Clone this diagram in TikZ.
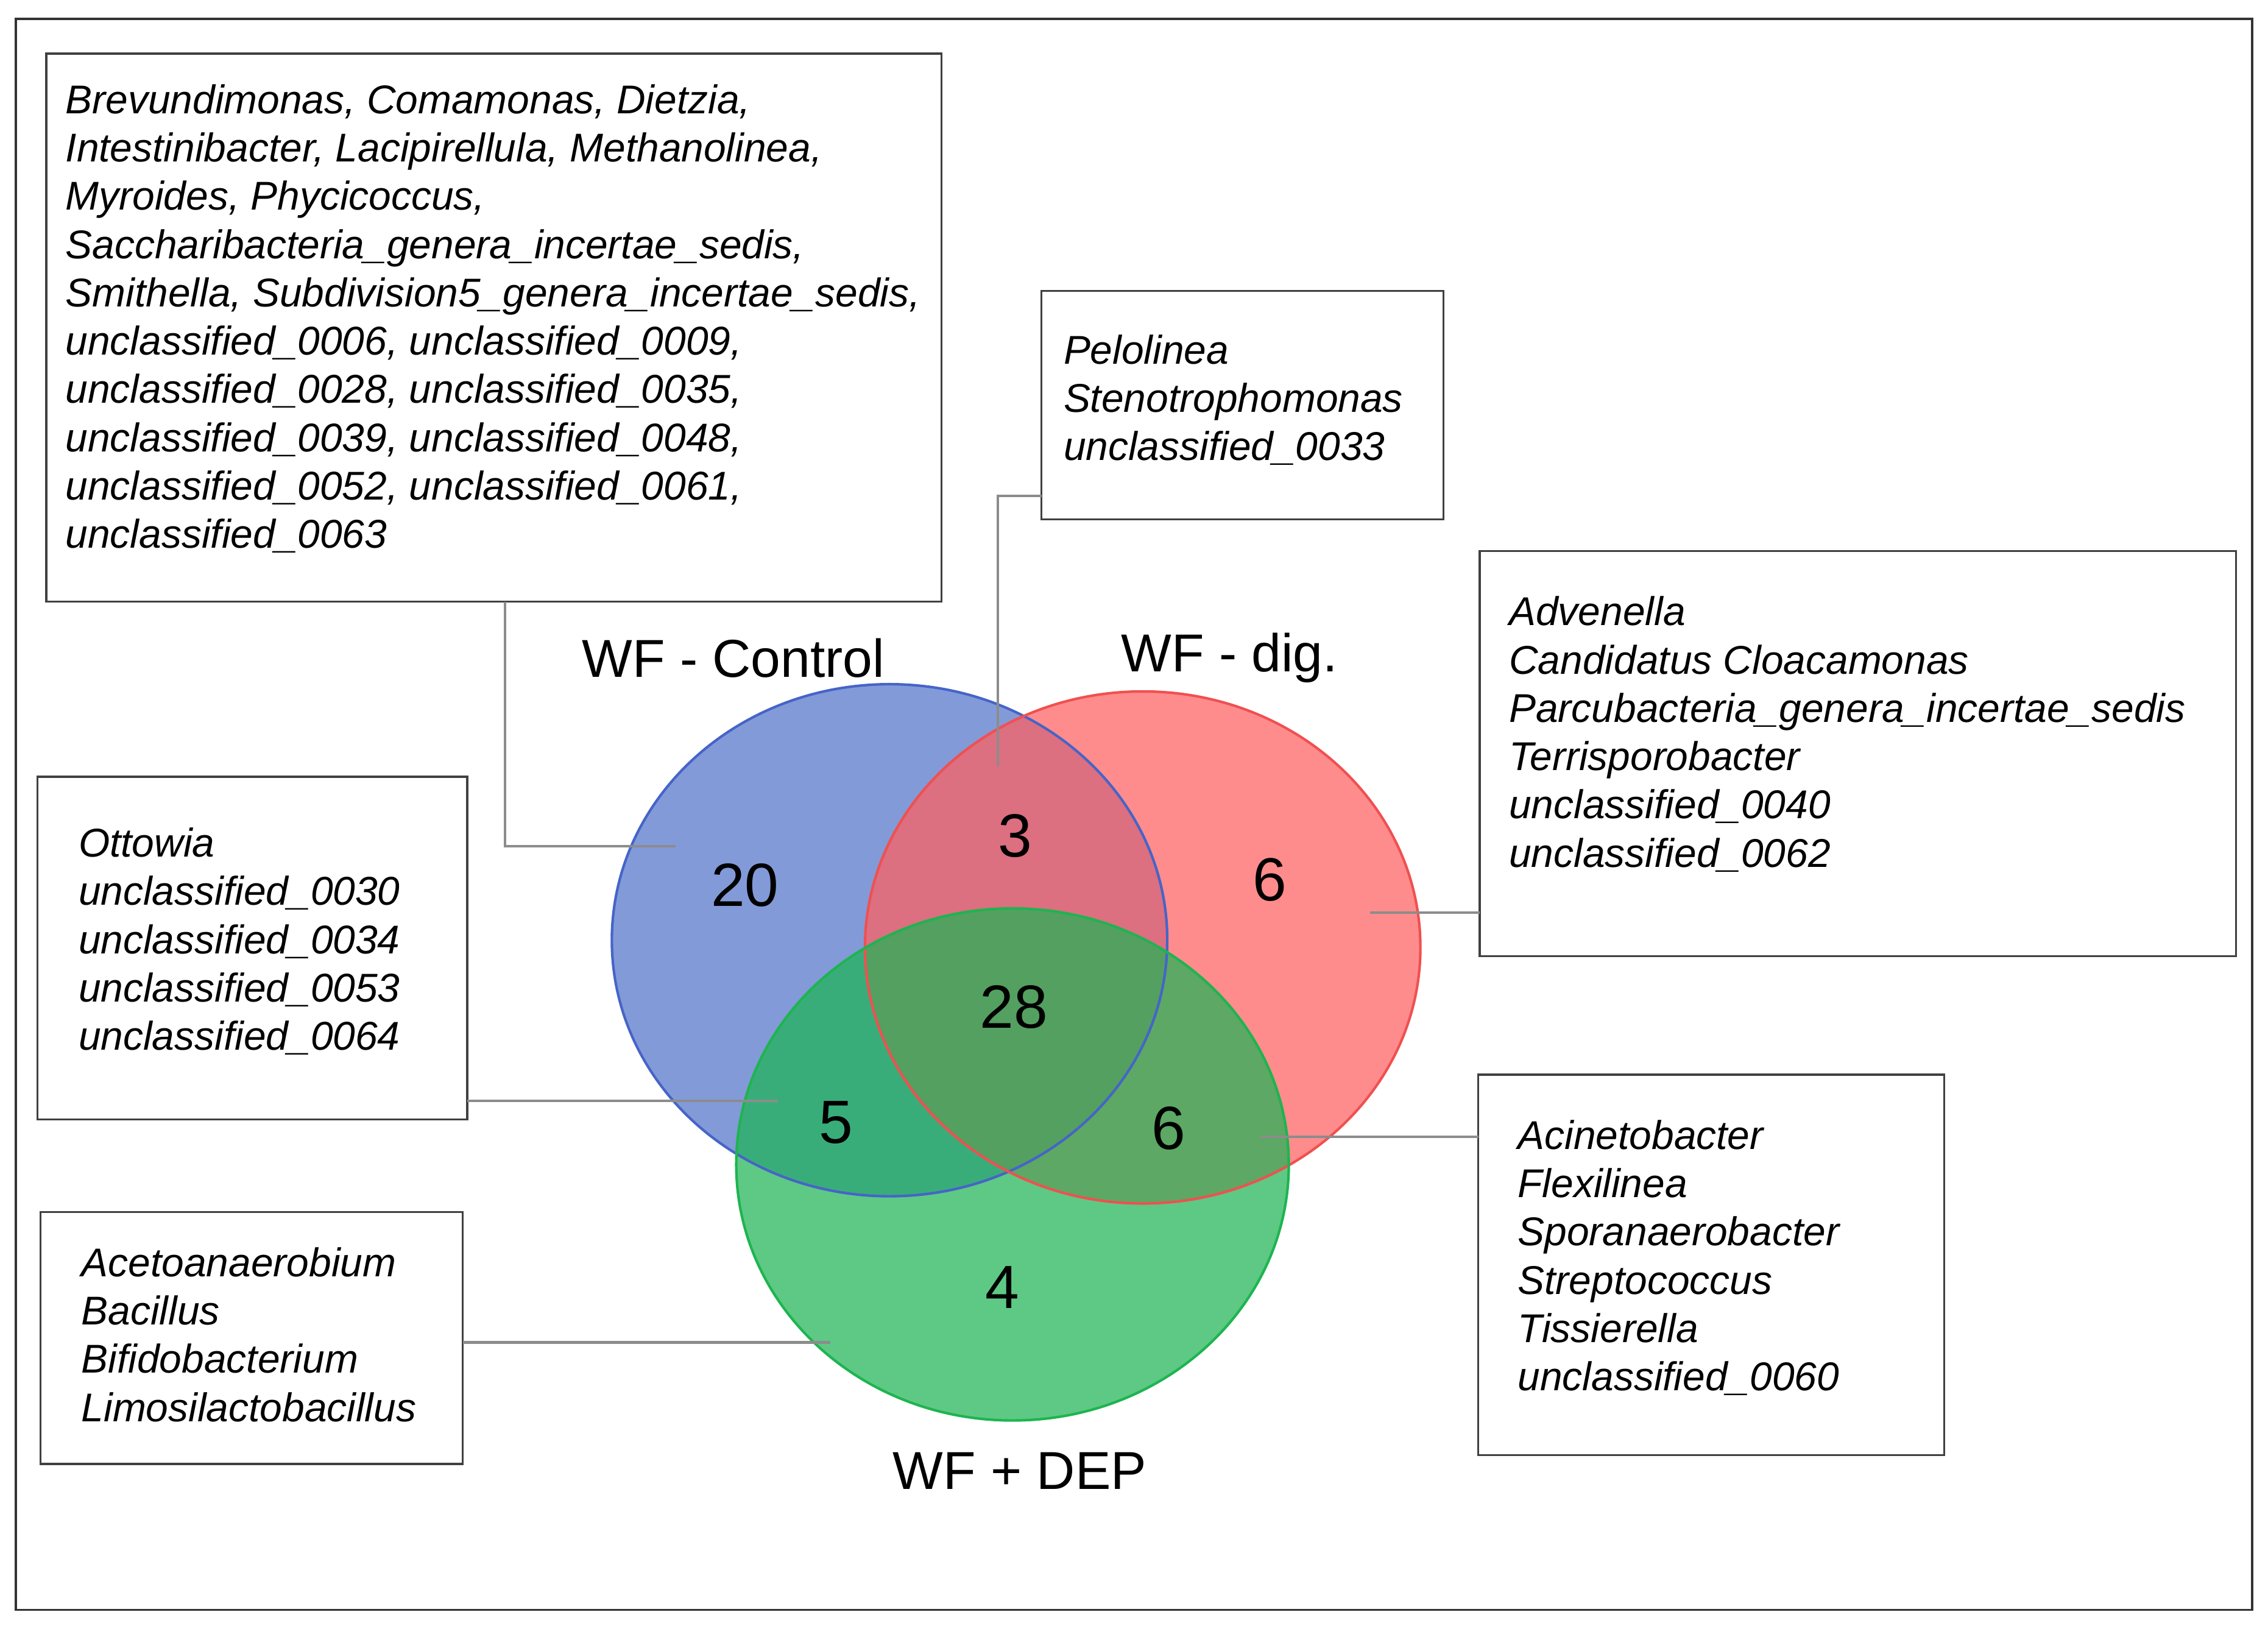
\documentclass[tikz,border=0pt]{standalone}
\usepackage{fontspec}
\setmainfont{Liberation Sans}
\definecolor{bF}{RGB}{95,125,205}
\definecolor{rF}{RGB}{255,95,95}
\definecolor{gF}{RGB}{30,180,85}
\definecolor{bD}{RGB}{70,100,200}
\definecolor{rD}{RGB}{240,80,80}
\definecolor{gD}{RGB}{30,180,80}
\begin{document}
\begin{tikzpicture}[x=0.02cm,y=-0.02cm,
  box/.style={draw=black!75,line width=0.8pt,fill=white},
  lst/.style={anchor=north west,inner sep=0pt,align=left,font=\fontsize{15.8}{19}\selectfont\itshape},
  conn/.style={draw=black!45,line width=1pt},
  lab/.style={font=\fontsize{21}{24}\selectfont},
  num/.style={font=\fontsize{24}{27}\selectfont}]
\useasboundingbox (0,0) rectangle (1568,1124);
\draw[line width=0.8pt,black!80] (11,13) rectangle (1557,1113);
% ellipses
\fill[bF,opacity=0.78] (615,650) ellipse [x radius=192,y radius=177];
\fill[rF,opacity=0.72] (790,655) ellipse [x radius=192,y radius=177];
\fill[gF,opacity=0.72] (700,805) ellipse [x radius=191,y radius=177];
\draw[line width=1pt,bD] (615,650) ellipse [x radius=192,y radius=177];
\draw[line width=1pt,rD] (790,655) ellipse [x radius=192,y radius=177];
\draw[line width=1pt,gD] (700,805) ellipse [x radius=191,y radius=177];
% labels
\node[lab] (lc) at (507,455) {WF - Control};
\node[lab] (ld) at (850,455) {WF - dig.};
\node[lab] (le) at (705,1017) {WF + DEP};
\node[num] (n20) at (515,612) {20};
\node[num] (n3) at (702,578) {3};
\node[num] (n6a) at (878,608) {6};
\node[num] (n28) at (701,696) {28};
\node[num] (n5) at (578,776) {5};
\node[num] (n6b) at (808,780) {6};
\node[num] (n4) at (693,890) {4};
% connector endpoints
\coordinate (e1) at (467,585);
\coordinate (e2) at (690,530);
\coordinate (e3) at (947,631);
\coordinate (e4) at (538,761);
\coordinate (e5) at (871,786);
\coordinate (e6) at (574,928);
% boxes
\draw[box] (32,37) rectangle (651,416);
\draw[box] (720,201) rectangle (998,359);
\draw[box] (1023,381) rectangle (1546,661);
\draw[box] (26,537) rectangle (323,774);
\draw[box] (1022,743) rectangle (1344,1006);
\draw[box] (28,838) rectangle (320,1012);
\coordinate (b1) at (349,416);
\coordinate (b2) at (720,343);
\coordinate (b3) at (1023,631);
\coordinate (b4) at (323,761);
\coordinate (b5) at (1022,786);
\coordinate (b6) at (320,928);
\draw[conn] (b1) |- (e1);
\draw[conn] (b2) -| (e2);
\draw[conn] (b3) -- (e3);
\draw[conn] (b4) -- (e4);
\draw[conn] (b5) -- (e5);
\draw[conn] (b6) -- (e6);
% texts
\node[lst] (t1) at (45,58) {Brevundimonas, Comamonas, Dietzia,\\Intestinibacter, Lacipirellula, Methanolinea,\\Myroides, Phycicoccus,\\Saccharibacteria\_genera\_incertae\_sedis,\\Smithella, Subdivision5\_genera\_incertae\_sedis,\\unclassified\_0006, unclassified\_0009,\\unclassified\_0028, unclassified\_0035,\\unclassified\_0039, unclassified\_0048,\\unclassified\_0052, unclassified\_0061,\\unclassified\_0063};
\node[lst] (t2) at (735,231) {Pelolinea\\Stenotrophomonas\\unclassified\_0033};
\node[lst] (t3) at (1043,412) {Advenella\\Candidatus Cloacamonas\\Parcubacteria\_genera\_incertae\_sedis\\Terrisporobacter\\unclassified\_0040\\unclassified\_0062};
\node[lst] (t4) at (54,572) {Ottowia\\unclassified\_0030\\unclassified\_0034\\unclassified\_0053\\unclassified\_0064};
\node[lst] (t5) at (1049,774) {Acinetobacter\\Flexilinea\\Sporanaerobacter\\Streptococcus\\Tissierella\\unclassified\_0060};
\node[lst] (t6) at (56,862) {Acetoanaerobium\\Bacillus\\Bifidobacterium\\Limosilactobacillus};
\end{tikzpicture}
\end{document}
